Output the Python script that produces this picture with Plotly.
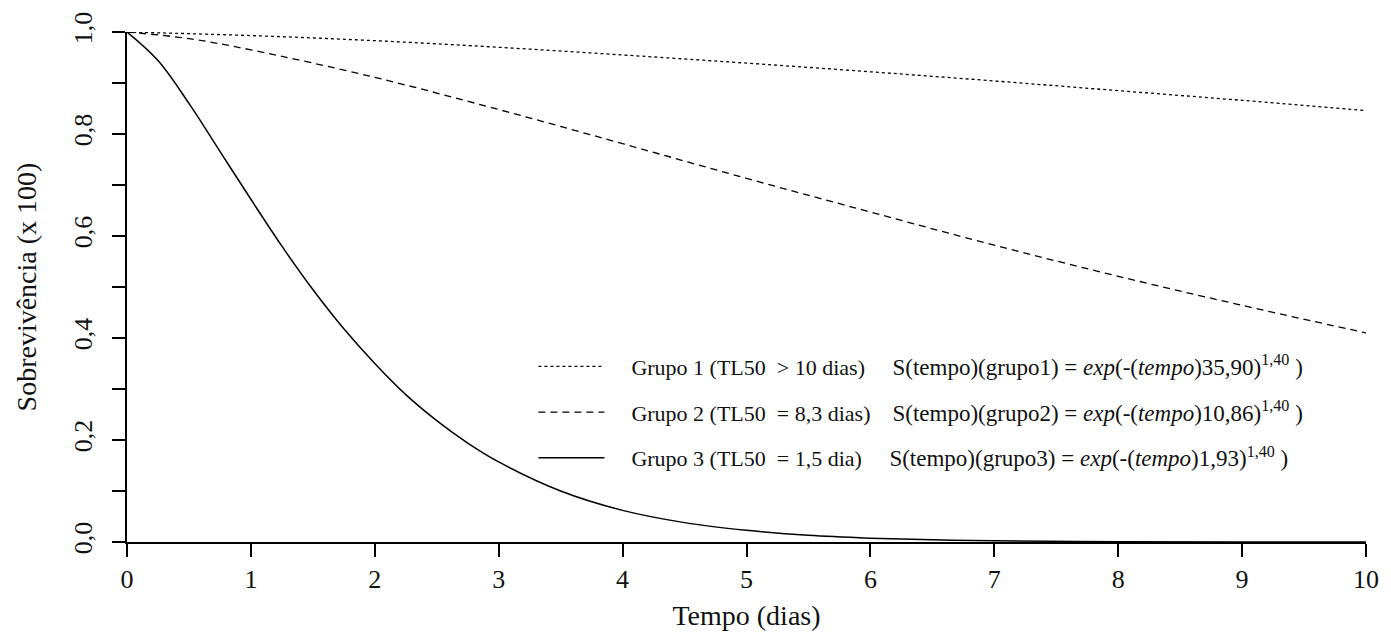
import plotly.graph_objects as go

# Time (days)
t_g1 = [0, 1, 2, 3, 4, 5, 6, 7, 8, 9, 10]
s_g1 = [1.000, 0.993, 0.983, 0.970, 0.955, 0.939, 0.922, 0.904, 0.885, 0.866, 0.846]

t_g2 = [0, 0.5, 1, 2, 3, 4, 5, 6, 7, 8, 9, 10]
s_g2 = [1.000, 0.987, 0.965, 0.911, 0.848, 0.781, 0.713, 0.647, 0.582, 0.521, 0.464, 0.410]

t_g3 = [0, 0.25, 0.5, 0.75, 1, 1.25, 1.5, 1.75, 2, 2.25, 2.5, 2.75, 3,
        3.5, 4, 4.5, 5, 5.5, 6, 6.5, 7, 8, 9, 10]
s_g3 = [1.000, 0.944, 0.860, 0.766, 0.672, 0.580, 0.495, 0.418, 0.350, 0.289,
        0.238, 0.194, 0.157, 0.100, 0.062, 0.038, 0.023, 0.013, 0.0075, 0.0042,
        0.0023, 0.0007, 0.0002, 0.0001]

pad = "&nbsp;" * 4
sp = "&nbsp;"
R = '<span style="font-size:23px">'
names = [
    pad + "Grupo 1 (TL50" + sp + " &gt; 10 dias)" + sp * 4 + " " + R + "S(tempo)(grupo1) = <i>exp</i>(-(<i>tempo</i>)35,90)<sup>1,40</sup>" + sp + ")</span>",
    pad + "Grupo 2 (TL50" + sp + " = 8,3 dias)" + sp * 3 + " " + R + "S(tempo)(grupo2) = <i>exp</i>(-(<i>tempo</i>)10,86)<sup>1,40</sup>" + sp + ")</span>",
    pad + "Grupo 3 (TL50" + sp + " = 1,5 dia)" + sp * 4 + " " + R + "S(tempo)(grupo3) = <i>exp</i>(-(<i>tempo</i>)1,93)<sup>1,40</sup>" + sp + ")</span>",
]

FONT = "Liberation Serif, Times New Roman, serif"

fig = go.Figure()
fig.add_trace(go.Scatter(x=t_g1, y=s_g1, mode="lines", name=names[0], legendgroup="g1",
                         line=dict(color="black", width=1.3, dash="dot", shape="spline")))
fig.add_trace(go.Scatter(x=t_g2, y=s_g2, mode="lines", name=names[1], legendgroup="g2",
                         line=dict(color="black", width=1.3, dash="7px,5px", shape="spline")))
fig.add_trace(go.Scatter(x=t_g3, y=s_g3, mode="lines", name=names[2], legendgroup="g3",
                         line=dict(color="black", width=1.5, shape="spline")))

fig.update_layout(
    width=1391, height=638,
    margin=dict(l=127, r=17, t=25, b=96),
    paper_bgcolor="white", plot_bgcolor="white",
    font=dict(family=FONT, color="#111", size=26),
    separators=",.",
    legend=dict(x=0.328, y=0.385, xanchor="left", yanchor="top",
                font=dict(family=FONT, size=22, color="#111"),
                bgcolor="rgba(0,0,0,0)", tracegroupgap=14, itemwidth=66,
                traceorder="grouped"),
    xaxis=dict(range=[0, 10], dtick=1, tick0=0, showgrid=False, zeroline=False,
               showline=True, linecolor="black", linewidth=2,
               ticks="outside", ticklen=13, tickwidth=2, tickcolor="black",
               tickfont=dict(size=26),
               title=dict(text="Tempo (dias)", font=dict(size=28), standoff=12)),
    yaxis=dict(range=[0, 1], dtick=0.2, tick0=0, tickformat=".1f", tickangle=-90,
               showgrid=False, zeroline=False,
               showline=True, linecolor="black", linewidth=2,
               ticks="outside", ticklen=13, tickwidth=2, tickcolor="black",
               tickfont=dict(size=26), ticklabelstandoff=10,
               minor=dict(dtick=0.1, ticks="outside", ticklen=13, tickwidth=2,
                          tickcolor="black", showgrid=False),
               title=dict(text="Sobrevivência (x 100)", font=dict(size=28), standoff=24)),
)

fig.write_html("out.html")
